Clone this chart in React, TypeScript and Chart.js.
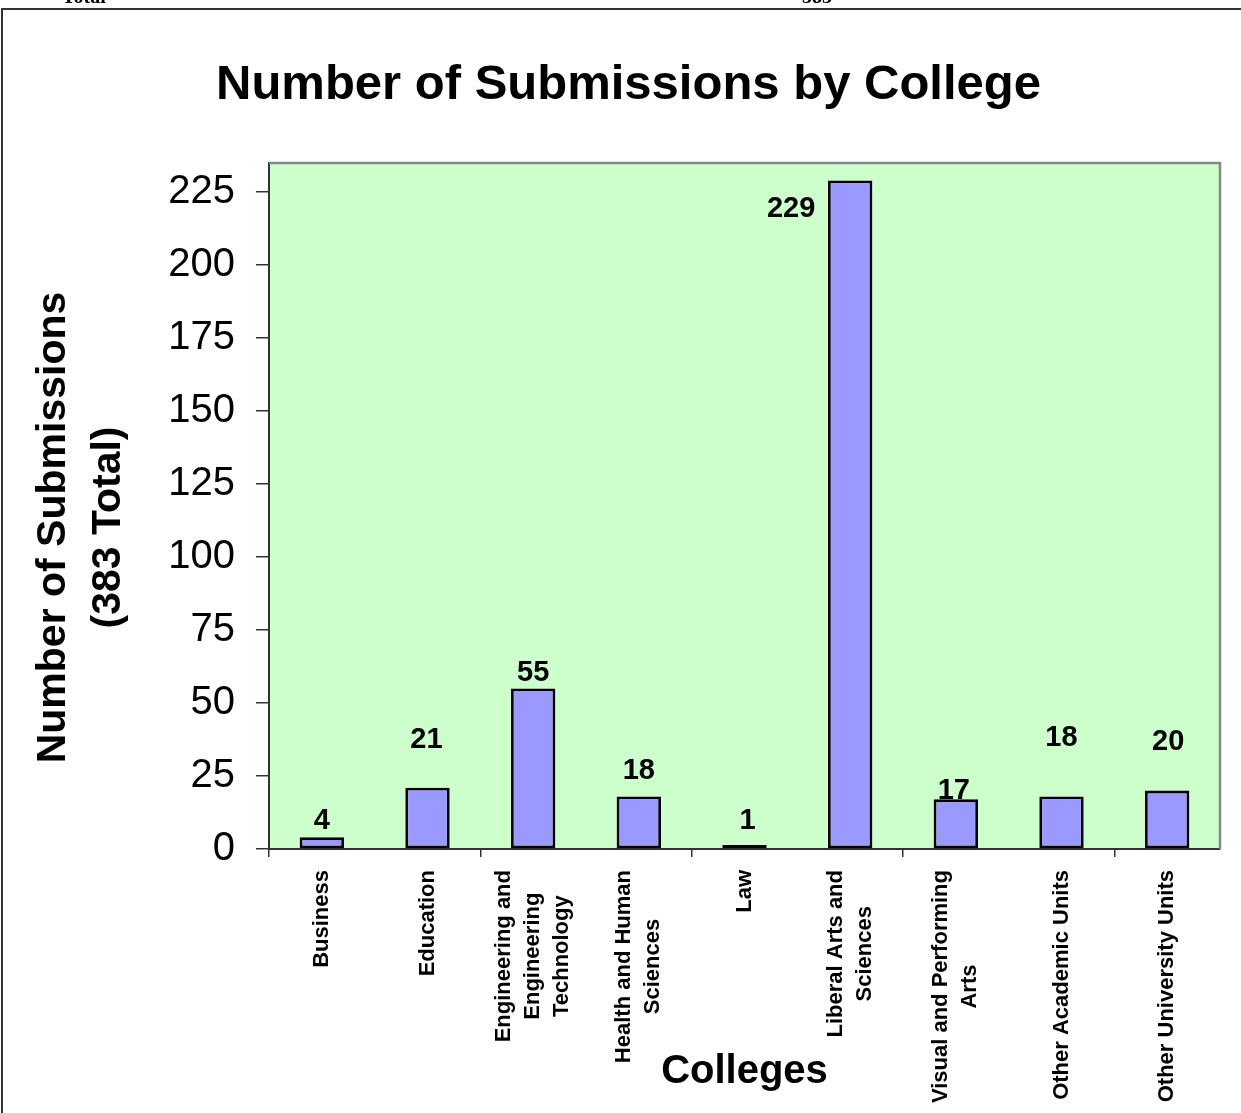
import React, { useEffect, useRef } from 'react';
import { Chart, registerables } from 'chart.js';

Chart.register(...registerables);

// ---- data ----
const categories: string[][] = [
  ['Business'],
  ['Education'],
  ['Engineering and', 'Engineering', 'Technology'],
  ['Health and Human', 'Sciences'],
  ['Law'],
  ['Liberal Arts and', 'Sciences'],
  ['Visual and Performing', 'Arts'],
  ['Other Academic Units'],
  ['Other University Units'],
];
const submissions: number[] = [4, 21, 55, 18, 1, 229, 17, 18, 20];
const yTickValues: number[] = [0, 25, 50, 75, 100, 125, 150, 175, 200, 225];
const chartTitle = 'Number of Submissions by College';
const yTitleLines: string[] = ['Number of Submissions', '(383 Total)'];
const xTitle = 'Colleges';
const croppedHeader: string[] = ['Total', '383'];

// label placement relative to each bar's top centre (px)
const labelOffsets: [number, number][] = [
  [0, -19], [-1, -50], [0, -18], [0, -28], [3, -26], [-59, 26], [-2, -11], [0, -61], [1, -51],
];

const FONT = '"Liberation Sans", Arial, Helvetica, sans-serif';

const customPlugin = {
  id: 'customDraw',
  beforeDraw(chart: any) {
    const { ctx, chartArea: a, width, height } = chart;
    ctx.save();
    ctx.fillStyle = '#ffffff';
    ctx.fillRect(0, 0, width, height);
    // cropped header text
    ctx.fillStyle = '#000';
    ctx.font = 'bold 20px "Liberation Serif", "Times New Roman", serif';
    ctx.textBaseline = 'alphabetic';
    ctx.textAlign = 'left';
    ctx.fillText(croppedHeader[0], 62, 3);
    ctx.fillText(croppedHeader[1], 802, 3);
    // outer frame
    ctx.strokeStyle = '#333';
    ctx.lineWidth = 2;
    ctx.strokeRect(2, 9, width + 20, height + 20);
    // plot background
    ctx.fillStyle = '#CCFFCC';
    ctx.fillRect(a.left, a.top, a.right - a.left, a.bottom - a.top);
    ctx.restore();
  },
  beforeDatasetsDraw(chart: any) {
    const { ctx, chartArea: a } = chart;
    ctx.save();
    ctx.strokeStyle = '#888888';
    ctx.lineWidth = 2.5;
    ctx.beginPath();
    ctx.moveTo(a.left, a.top);
    ctx.lineTo(a.right, a.top);
    ctx.lineTo(a.right, a.bottom);
    ctx.stroke();
    ctx.restore();
  },
  afterDatasetsDraw(chart: any) {
    const { ctx } = chart;
    const meta = chart.getDatasetMeta(0);
    ctx.save();
    ctx.fillStyle = '#000';
    ctx.font = `bold 29px ${FONT}`;
    ctx.textAlign = 'center';
    ctx.textBaseline = 'alphabetic';
    meta.data.forEach((bar: any, i: number) => {
      const [dx, dy] = labelOffsets[i];
      const cy = bar.y + dy;
      ctx.fillText(String(submissions[i]), bar.x + dx, cy + 0.358 * 29);
    });
    ctx.restore();
  },
  afterDraw(chart: any) {
    const { ctx, chartArea: a } = chart;
    const xScale = chart.scales.x;
    ctx.save();
    ctx.fillStyle = '#000';
    // title
    ctx.font = `bold 49px ${FONT}`;
    ctx.textAlign = 'center';
    ctx.textBaseline = 'alphabetic';
    ctx.fillText(chartTitle, 628.5, 99);
    // x title
    ctx.font = `bold 40px ${FONT}`;
    ctx.fillText(xTitle, (a.left + a.right) / 2, 1083);
    // y title
    ctx.font = `bold 41px ${FONT}`;
    const yBaselines = [65, 120];
    yTitleLines.forEach((line, j) => {
      ctx.save();
      ctx.translate(yBaselines[j], 527.5);
      ctx.rotate(-Math.PI / 2);
      ctx.textAlign = 'center';
      ctx.textBaseline = 'alphabetic';
      ctx.fillText(line, 0, 0);
      ctx.restore();
    });
    // x tick labels (rotated, multi-line, centred)
    ctx.font = `bold 22px ${FONT}`;
    const lineH = 29;
    const top = a.bottom + 21;
    categories.forEach((lines, i) => {
      const x = xScale.getPixelForValue(i);
      const w = Math.max(...lines.map((l) => ctx.measureText(l).width));
      ctx.save();
      ctx.translate(x, top);
      ctx.rotate(-Math.PI / 2);
      ctx.textAlign = 'center';
      ctx.textBaseline = 'middle';
      lines.forEach((l, j) => {
        ctx.fillText(l, -w / 2, (j - (lines.length - 1) / 2) * lineH);
      });
      ctx.restore();
    });
    ctx.restore();
  },
};

export default function App() {
  const canvasRef = useRef<HTMLCanvasElement | null>(null);

  useEffect(() => {
    if (!canvasRef.current) return;
    const chart = new Chart(canvasRef.current, {
      type: 'bar',
      data: {
        labels: categories.map((c) => c.join(' ')),
        datasets: [
          {
            data: submissions,
            backgroundColor: '#9999FF',
            borderColor: '#000000',
            borderWidth: 2.8,
            borderSkipped: false,
            barPercentage: 0.42,
            categoryPercentage: 1,
            minBarLength: 4,
          },
        ],
      },
      options: {
        responsive: false,
        animation: false,
        devicePixelRatio: 1,
        layout: { padding: { top: 163, right: 21, left: 0, bottom: 0 } },
        plugins: {
          legend: { display: false },
          tooltip: { enabled: false },
          title: { display: false },
        },
        scales: {
          x: {
            type: 'category',
            offset: true,
            ticks: { display: false },
            grid: {
              display: true,
              offset: true,
              drawOnChartArea: false,
              drawTicks: true,
              tickLength: 8,
              lineWidth: 1.5,
              color: (c: any) => (c.index % 2 === 0 ? '#333' : 'rgba(0,0,0,0)'),
            },
            border: { display: true, color: '#333', width: 2 },
            afterFit: (s: any) => {
              s.height = 264;
            },
          },
          y: {
            min: 0,
            max: 235,
            afterBuildTicks: (s: any) => {
              s.ticks = yTickValues.map((v) => ({ value: v }));
            },
            ticks: {
              font: { family: FONT, size: 40 },
              color: '#000',
              padding: 21,
            },
            grid: {
              display: true,
              drawOnChartArea: false,
              drawTicks: true,
              tickLength: 13,
              lineWidth: 1.5,
              color: '#333',
            },
            border: { display: true, color: '#333', width: 2 },
            afterFit: (s: any) => {
              s.width = 269;
            },
          },
        },
      },
      plugins: [customPlugin],
    });
    return () => chart.destroy();
  }, []);

  return (
    <div style={{ position: 'fixed', left: 0, top: 0, width: 1241, height: 1113, overflow: 'hidden', background: '#fff' }}>
      <canvas ref={canvasRef} width={1241} height={1113} style={{ display: 'block', width: 1241, height: 1113 }} />
    </div>
  );
}
